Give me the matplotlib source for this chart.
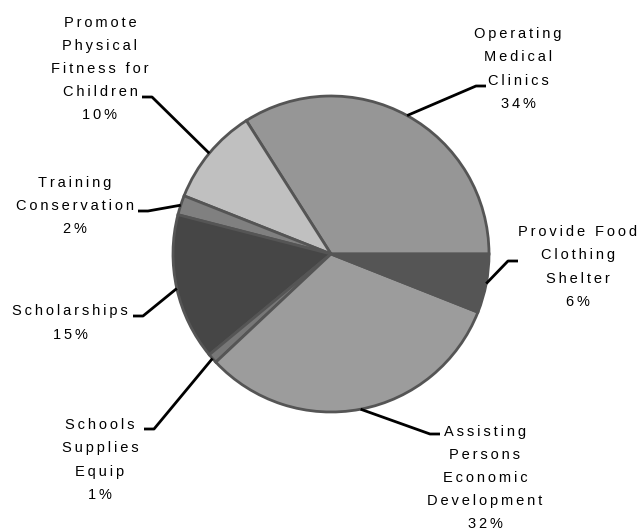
import numpy as np
import matplotlib.pyplot as plt

plt.rcParams['font.family'] = ['Liberation Sans', 'DejaVu Sans']

# slice data, counterclockwise from 3 o'clock
labels = ["Operating\nMedical\nClinics",
          "Promote\nPhysical\nFitness for\nChildren",
          "Training\nConservation",
          "Scholarships",
          "Schools\nSupplies\nEquip",
          "Assisting\nPersons\nEconomic\nDevelopment",
          "Provide Food\nClothing\nShelter"]
shares = [34, 10, 2, 15, 1, 32, 6]
colors = ['#969696', '#c0c0c0', '#808080', '#464646', '#777777', '#9c9c9c', '#555555']

# label layout in pixels: text block centre, elbow of leader, side of the short tick
text_px = [(518, 69), (100, 69), (75, 206), (70, 323), (100, 460), (485, 478), (578, 267)]
elbow_px = [(476, 86), (152, 97), (148, 211), (143, 316), (154, 429), (430, 434), (508, 261)]
tick_dir = [1, -1, -1, -1, -1, 1, 1]

W, H, DPI = 644, 531, 100
cx, cy, R = 331, 254, 158


def to_data(p):
    return ((p[0] - cx) / R, (cy - p[1]) / R)


def spaced(s):
    # mimic the wide letter spacing of the original
    return "\n".join("\u2009".join(line) for line in s.split("\n"))


fig = plt.figure(figsize=(W / DPI, H / DPI), dpi=DPI)
ax = fig.add_axes([0, 0, 1, 1])
wedges, _ = ax.pie(shares, colors=colors, startangle=0, counterclock=True, radius=1,
                   wedgeprops=dict(edgecolor='#555555', linewidth=2))
ax.set_xlim(-cx / R, (W - cx) / R)
ax.set_ylim((cy - H) / R, cy / R)
ax.set_aspect('equal')
ax.axis('off')

for w, lab, pct, tp, ep, d in zip(wedges, labels, shares, text_px, elbow_px, tick_dir):
    mid = np.deg2rad((w.theta1 + w.theta2) / 2)
    x0, y0 = np.cos(mid), np.sin(mid)
    ex, ey = to_data(ep)
    ax.plot([x0, ex, ex + d * 10 / R], [y0, ey, ey], color='black', lw=2, solid_capstyle='butt')
    tx, ty = to_data(tp)
    ax.text(tx, ty, spaced(lab + "\n" + f"{pct}%"), ha='center', va='center',
            fontsize=10.5, linespacing=1.84, color='black')

fig.savefig('out.png', dpi=DPI)
